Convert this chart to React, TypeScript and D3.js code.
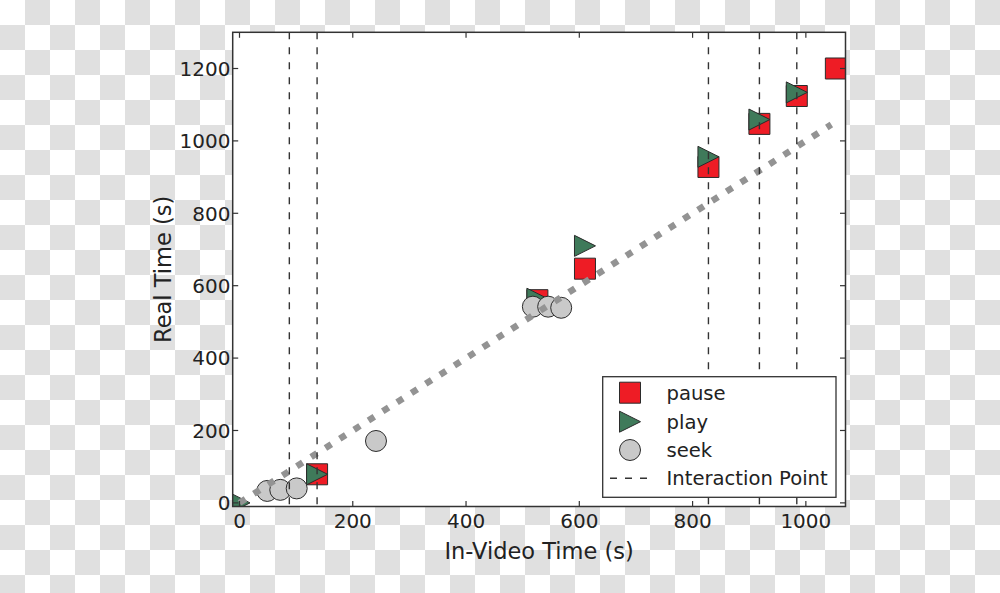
import React from 'react';
import * as d3 from 'd3';

// ---- data ----
const pauseX = [137, 526, 610, 828, 918, 984, 1053];
const pauseY = [79, 560, 647, 928, 1047, 1124, 1200];
const playX = [0, 137, 526, 610, 828, 918, 984];
const playY = [0, 79, 564, 710, 956, 1059, 1134];
const seekX = [49, 72, 101, 241, 518, 545, 568];
const seekY = [33, 36, 40, 171, 542, 542, 539];
const interactionX = [88, 137, 828, 918, 984];
const refLine = [0, 1045];
const xTicks = [0, 200, 400, 600, 800, 1000];
const yTicks = [0, 200, 400, 600, 800, 1000, 1200];
const xDomain = [-12, 1070];
const yDomain = [-10, 1300];
const legendLabels = ['pause', 'play', 'seek', 'Interaction Point'];

const W = 1000;
const H = 593;
const L = 232.7, R = 845.5, T = 32.3, B = 506.5;
const FONT = '"DejaVu Sans", sans-serif';
const RED = '#ee1c25';
const GREEN = '#3f7a5a';
const GRAY = '#c9c9c9';
const EDGE = '#2b2b2b';
const MS = 21;

const x = d3.scaleLinear().domain(xDomain).range([L, R]);
const y = d3.scaleLinear().domain(yDomain).range([B, T]);

const squarePath = (cx: number, cy: number) =>
  `M${cx - MS / 2},${cy - MS / 2}h${MS}v${MS}h${-MS}Z`;
const triPath = (cx: number, cy: number) =>
  `M${cx + MS / 2},${cy}L${cx - MS / 2},${cy - MS / 2}L${cx - MS / 2},${cy + MS / 2}Z`;

export default function App() {
  const lineGen = d3.line<number>().x((d) => x(d)).y((d) => y(d));
  const tick = 5.5;
  const legX = 602.7, legY = 376.7, legW = 233.3, legH = 120.6;
  const rowY = [392.7, 421.7, 450, 478.3];
  const mx = 630, tx = 666.5;
  return (
    <div style={{ position: 'absolute', left: 0, top: 0, width: W, height: H }}>
      <svg width={W} height={H} viewBox={`0 0 ${W} ${H}`} style={{ display: 'block' }}>
        <defs>
          <pattern id="chk" width={50} height={50} patternUnits="userSpaceOnUse">
            <rect width={50} height={50} fill="#ffffff" />
            <rect x={25} y={0} width={25} height={25} fill="#e0e0e0" />
            <rect x={0} y={25} width={25} height={25} fill="#e0e0e0" />
          </pattern>
          <clipPath id="plotclip">
            <rect x={L} y={T} width={R - L} height={B - T} />
          </clipPath>
        </defs>
        <rect width={W} height={H} fill="url(#chk)" />
        <rect x={L} y={T} width={R - L} height={B - T} fill="#ffffff" />

        <g clipPath="url(#plotclip)">
          {pauseX.map((v, i) => (
            <path key={'p' + i} d={squarePath(x(v), y(pauseY[i]))} fill={RED} stroke={EDGE} strokeWidth={1} />
          ))}
          {playX.map((v, i) => (
            <path key={'g' + i} d={triPath(x(v), y(playY[i]))} fill={GREEN} stroke={EDGE} strokeWidth={1} />
          ))}
          {seekX.map((v, i) => (
            <circle key={'s' + i} cx={x(v)} cy={y(seekY[i])} r={MS / 2} fill={GRAY} stroke={EDGE} strokeWidth={1} />
          ))}
          <path d={lineGen(refLine) || ''} fill="none" stroke="#939393" strokeWidth={6.5} strokeDasharray="7,10" />
          {interactionX.map((v, i) => (
            <line key={'v' + i} x1={x(v)} x2={x(v)} y1={T} y2={B} stroke="#333" strokeWidth={1.4} strokeDasharray="7,8" />
          ))}
        </g>

        {/* frame */}
        <rect x={L} y={T} width={R - L} height={B - T} fill="none" stroke="#333" strokeWidth={1.5} />

        {/* x ticks */}
        {xTicks.map((t) => (
          <g key={'xt' + t}>
            <line x1={x(t)} x2={x(t)} y1={B} y2={B - tick} stroke="#333" strokeWidth={1.2} />
            <line x1={x(t)} x2={x(t)} y1={T} y2={T + tick} stroke="#333" strokeWidth={1.2} />
            <text x={x(t)} y={528} textAnchor="middle" fontFamily={FONT} fontSize={20} fill="#222">
              {t}
            </text>
          </g>
        ))}
        {/* y ticks */}
        {yTicks.map((t) => (
          <g key={'yt' + t}>
            <line x1={L} x2={L + tick} y1={y(t)} y2={y(t)} stroke="#333" strokeWidth={1.2} />
            <line x1={R} x2={R - tick} y1={y(t)} y2={y(t)} stroke="#333" strokeWidth={1.2} />
            <text x={230.5} y={y(t) + 7.3} textAnchor="end" fontFamily={FONT} fontSize={20} fill="#222">
              {t}
            </text>
          </g>
        ))}

        <text x={(L + R) / 2} y={559.3} textAnchor="middle" fontFamily={FONT} fontSize={22.5} fill="#222">
          In-Video Time (s)
        </text>
        <text
          transform={`translate(170.5,${(T + B) / 2}) rotate(-90)`}
          textAnchor="middle"
          fontFamily={FONT}
          fontSize={22.5}
          fill="#222"
        >
          Real Time (s)
        </text>

        {/* legend */}
        <rect x={legX} y={legY} width={legW} height={legH} fill="#ffffff" stroke="#333" strokeWidth={1.3} />
        <path d={squarePath(mx, rowY[0])} fill={RED} stroke={EDGE} strokeWidth={1} />
        <path d={triPath(mx, rowY[1])} fill={GREEN} stroke={EDGE} strokeWidth={1} />
        <circle cx={mx} cy={rowY[2]} r={MS / 2} fill={GRAY} stroke={EDGE} strokeWidth={1} />
        <line x1={610} x2={652} y1={rowY[3]} y2={rowY[3]} stroke="#333" strokeWidth={1.4} strokeDasharray="7,8" />
        {legendLabels.map((lab, i) => (
          <text key={lab} x={tx} y={rowY[i] + 7} fontFamily={FONT} fontSize={19.6} fill="#222">
            {lab}
          </text>
        ))}
      </svg>
    </div>
  );
}
